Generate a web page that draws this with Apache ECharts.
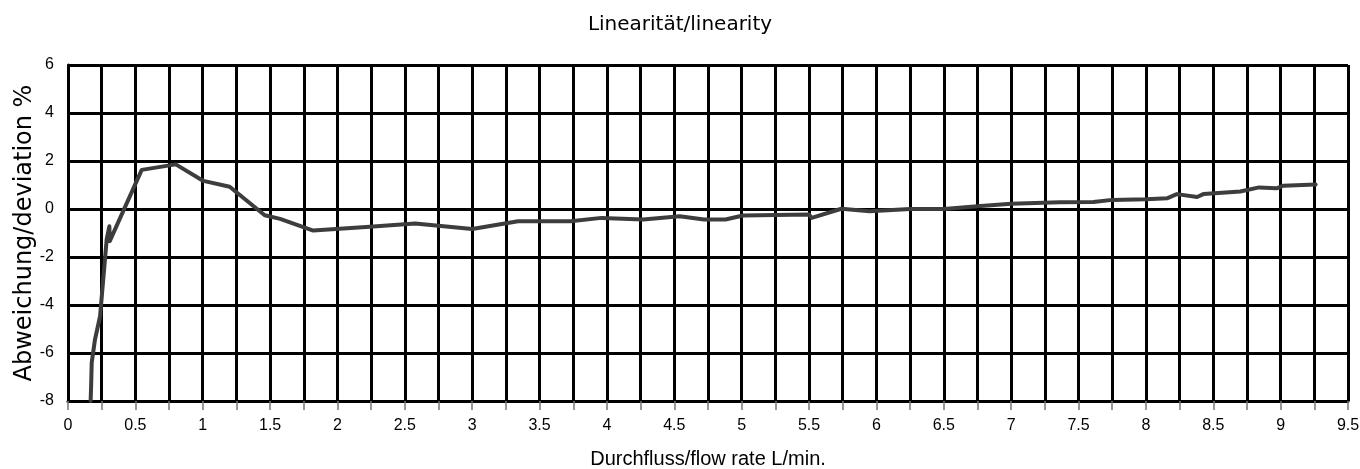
<!DOCTYPE html>
<html>
<head>
<meta charset="utf-8">
<script src="https://cdn.jsdelivr.net/npm/echarts@6/dist/echarts.min.js"></script>
<style>html,body{margin:0;padding:0;background:#fff}#c{width:1360px;height:469px}</style>
</head>
<body>
<div id="c"></div>
<script>
const titleText = 'Linearität/linearity';
const xName = 'Durchfluss/flow rate L/min.';
const yName = 'Abweichung/deviation %';
const flowRate = [0.168, 0.172, 0.176, 0.20, 0.238, 0.287, 0.307, 0.31, 0.547, 0.80, 1.005, 1.20, 1.46, 1.574, 1.82, 2.24, 2.576, 3.0, 3.34, 3.73, 3.96, 4.27, 4.54, 4.72, 4.88, 5.01, 5.50, 5.52, 5.74, 5.95, 6.25, 6.50, 6.75, 7.0, 7.36, 7.61, 7.75, 8.0, 8.16, 8.23, 8.38, 8.43, 8.70, 8.84, 8.97, 9.02, 9.26];
const deviation = [-8.0, -7.3, -6.4, -5.45, -4.47, -1.27, -0.72, -1.34, 1.63, 1.86, 1.17, 0.93, -0.26, -0.41, -0.90, -0.74, -0.60, -0.83, -0.51, -0.51, -0.37, -0.44, -0.30, -0.44, -0.44, -0.27, -0.23, -0.37, 0.01, -0.09, 0.0, 0.0, 0.11, 0.22, 0.28, 0.29, 0.38, 0.41, 0.45, 0.62, 0.50, 0.63, 0.73, 0.90, 0.86, 0.97, 1.02];
const xTickStep = 0.25;
const yTickStep = 2;

const chart = echarts.init(document.getElementById('c'), null, {renderer: 'canvas'});
const font = '"Liberation Sans", Arial, sans-serif';
const wide = '"DejaVu Sans", sans-serif';
chart.setOption({
  animation: false,
  backgroundColor: '#fff',
  title: {
    text: titleText, left: 'center', top: 10,
    textStyle: {fontFamily: wide, fontSize: 20, fontWeight: 'normal', color: '#000'}
  },
  grid: {left: 68, right: 12, top: 65, bottom: 68, outerBoundsMode: 'none', containLabel: false},
  xAxis: {
    type: 'value', min: 0, max: 9.5, interval: xTickStep,
    name: xName, nameLocation: 'middle', nameGap: 48, nameMoveOverlap: false,
    nameTextStyle: {fontFamily: font, fontSize: 20, color: '#000'},
    axisLine: {show: true, onZero: false, lineStyle: {color: '#000', width: 3}},
    axisTick: {show: true, length: 9, lineStyle: {color: '#777', width: 1.5}},
    axisLabel: {
      fontFamily: font, fontSize: 16, color: '#000', margin: 17,
      formatter: v => (Math.abs(v * 2 - Math.round(v * 2)) < 1e-9) ? String(v) : ''
    },
    splitLine: {show: true, lineStyle: {color: '#000', width: 3}}
  },
  yAxis: {
    type: 'value', min: -8, max: 6, interval: yTickStep,
    name: yName, nameLocation: 'middle', nameGap: 31, nameRotate: 90, nameMoveOverlap: false,
    nameTextStyle: {fontFamily: wide, fontSize: 24, color: '#000'},
    axisLine: {show: true, onZero: false, lineStyle: {color: '#000', width: 3}},
    axisTick: {show: false},
    axisLabel: {fontFamily: font, fontSize: 16, color: '#000', margin: 14},
    splitLine: {show: true, lineStyle: {color: '#000', width: 3}}
  },
  series: [{
    type: 'line',
    data: flowRate.map((x, i) => [x, deviation[i]]),
    showSymbol: false,
    symbol: 'none',
    lineStyle: {color: '#3d3d3d', width: 4, join: 'round', cap: 'round'},
    z: 5
  }]
});
</script>
</body>
</html>
